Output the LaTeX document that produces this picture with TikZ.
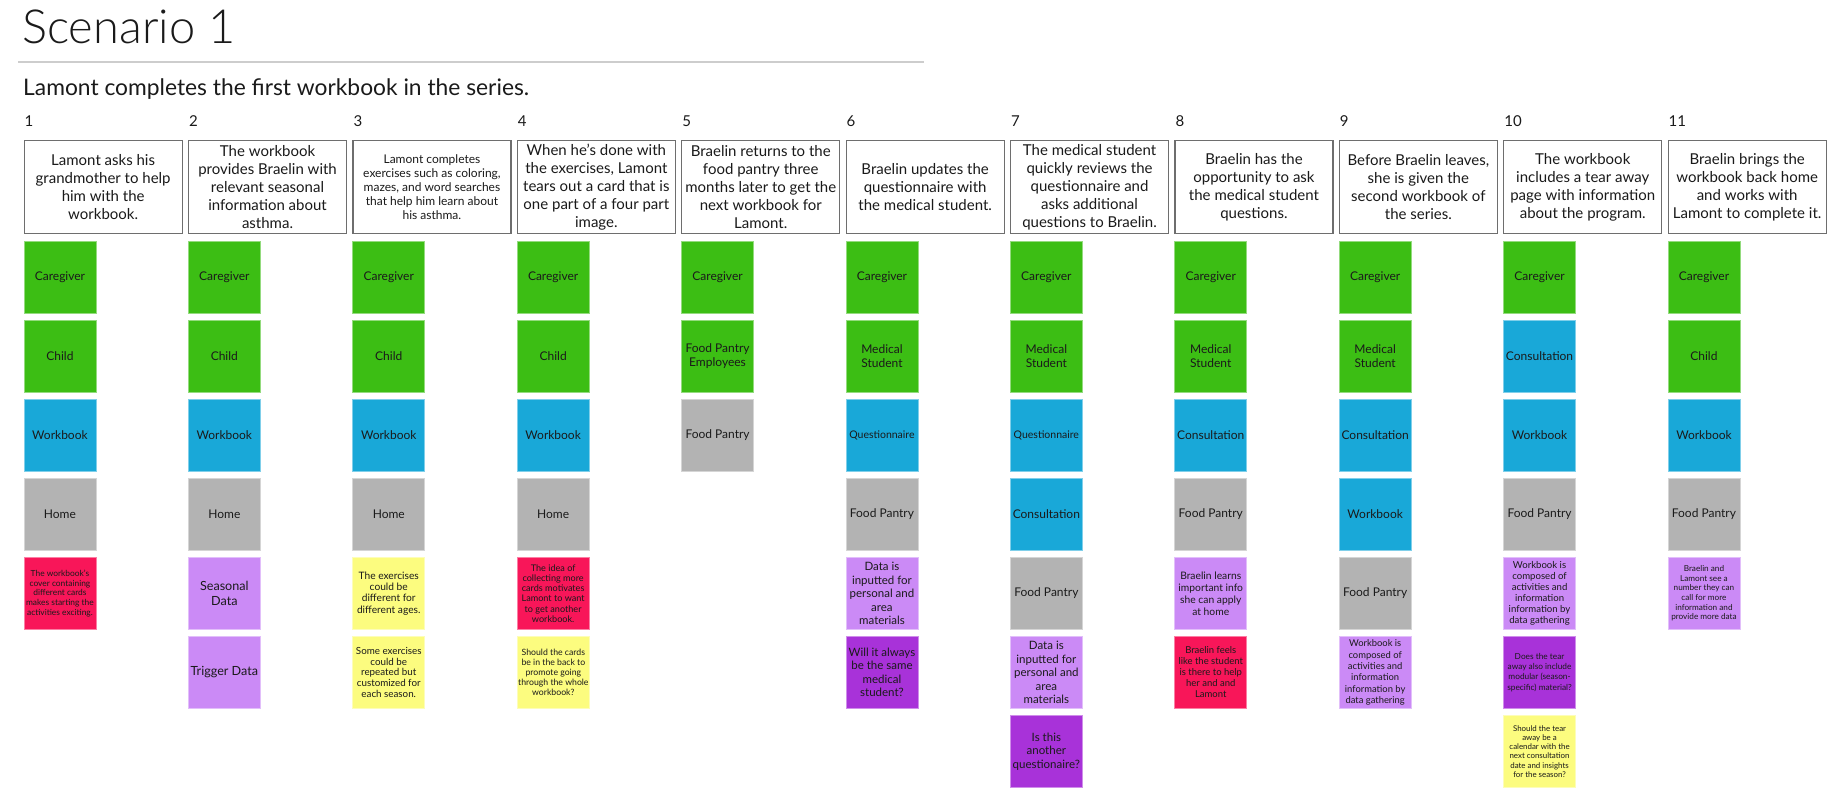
\documentclass[tikz,border=0pt]{standalone}
\usepackage{fontspec}
\setmainfont{Lato}
\newfontfamily\titlefont{Lato Light}
\usepackage{xcolor}
\usetikzlibrary{positioning}

\definecolor{cgreen}{RGB}{60,190,20}
\definecolor{cblue}{RGB}{25,168,216}
\definecolor{cgray}{RGB}{179,179,179}
\definecolor{cred}{RGB}{248,22,89}
\definecolor{clilac}{RGB}{203,138,246}
\definecolor{cpurple}{RGB}{168,50,217}
\definecolor{cyellow}{RGB}{252,252,127}
\definecolor{inkgray}{RGB}{26,26,26}
\definecolor{boxgray}{RGB}{110,110,110}
\definecolor{rulegray}{RGB}{205,205,205}

\tikzset{
  stepbox/.style={draw=boxgray, line width=1.3pt, fill=white, minimum width=158pt,
    minimum height=93pt, inner sep=2pt, anchor=north west, align=center, text=inkgray,
    font=\fontsize{15}{18}\selectfont},
  stepnum/.style={anchor=base west, inner sep=0pt, text=inkgray, font=\fontsize{15}{15}\selectfont},
  sticky/.style={fill=#1, draw=#1!55!white, line width=0.9pt, minimum width=72pt,
    minimum height=72pt, inner sep=1pt, anchor=north west, align=center, text=inkgray,
    font=\fontsize{12}{14}\selectfont},
}

\begin{document}
\begin{tikzpicture}[x=1pt,y=-1pt]
    \useasboundingbox (0,0) rectangle (1846,794);

    \node[anchor=base west, inner sep=0pt, text=inkgray, font=\titlefont\fontsize{47}{47}\selectfont] (title) at (22,44) {Scenario 1};
    \draw[rulegray, line width=1.2pt] (18,62) -- (924,62);
    \node[anchor=base west, inner sep=0pt, text=inkgray, font=\fontsize{22.8}{22.8}\selectfont] (subtitle) at (23,96) {Lamont completes the first workbook in the series.};

    \foreach \i in {1,...,11}
        \node[stepnum] (n\i) at ({24.5+164.4*(\i-1)},127) {\i};

    \node[stepbox] (b1) at (23.5,140) {Lamont asks his\\grandmother to help\\him with the\\workbook.};
    \node[stepbox] (b2) at (187.9,140) {The workbook\\provides Braelin with\\relevant seasonal\\information about\\asthma.};
    \node[stepbox, font=\fontsize{12}{13.8}\selectfont] (b3) at (352.3,140) {Lamont completes\\exercises such as coloring,\\mazes, and word searches\\that help him learn about\\his asthma.};
    \node[stepbox] (b4) at (516.7,140) {When he's done with\\the exercises, Lamont\\tears out a card that is\\one part of a four part\\image.};
    \node[stepbox] (b5) at (681.1,140) {Braelin returns to the\\food pantry three\\months later to get the\\next workbook for\\Lamont.};
    \node[stepbox] (b6) at (845.5,140) {Braelin updates the\\questionnaire with\\the medical student.};
    \node[stepbox] (b7) at (1009.9,140) {The medical student\\quickly reviews the\\questionnaire and\\asks additional\\questions to Braelin.};
    \node[stepbox] (b8) at (1174.3,140) {Braelin has the\\opportunity to ask\\the medical student\\questions.};
    \node[stepbox] (b9) at (1338.7,140) {Before Braelin leaves,\\she is given the\\second workbook of\\the series.};
    \node[stepbox] (b10) at (1503.1,140) {The workbook\\includes a tear away\\page with information\\about the program.};
    \node[stepbox] (b11) at (1667.5,140) {Braelin brings the\\workbook back home\\and works with\\Lamont to complete it.};

    \foreach \i in {1,...,11}
        \node[sticky=cgreen] (s\i-1) at ({23.5+164.4*(\i-1)},241) {Caregiver};
    \foreach \i in {1,2,3,4,11} {
        \node[sticky=cgreen] (s\i-2) at ({23.5+164.4*(\i-1)},320) {Child};
        \node[sticky=cblue] (s\i-3) at ({23.5+164.4*(\i-1)},399) {Workbook};
    }
    \foreach \i in {1,...,4}
        \node[sticky=cgray] (s\i-4) at ({23.5+164.4*(\i-1)},478) {Home};

    \node[sticky=cred, font=\fontsize{8.4}{9.7}\selectfont] (s1-5) at (23.5,557) {The workbook's\\cover containing\\different cards\\makes starting the\\activities exciting.};

    \node[sticky=clilac, font=\fontsize{12.6}{15}\selectfont] (s2-5) at (187.9,557) {Seasonal\\Data};
    \node[sticky=clilac, font=\fontsize{12.6}{15}\selectfont] (s2-6) at (187.9,636) {Trigger Data};

    \node[sticky=cyellow, font=\fontsize{10.2}{11.2}\selectfont] (s3-5) at (352.3,557) {The exercises\\could be\\different for\\different ages.};
    \node[sticky=cyellow, font=\fontsize{9.8}{10.7}\selectfont] (s3-6) at (352.3,636) {Some exercises\\could be\\repeated but\\customized for\\each season.};

    \node[sticky=cred, font=\fontsize{9.1}{10.3}\selectfont] (s4-5) at (516.7,557) {The idea of\\collecting more\\cards motivates\\Lamont to want\\to get another\\workbook.};
    \node[sticky=cyellow, font=\fontsize{8.7}{10}\selectfont] (s4-6) at (516.7,636) {Should the cards\\be in the back to\\promote going\\through the whole\\workbook?};

    \node[sticky=cgreen] (s5-2) at (681.1,320) {Food Pantry\\Employees};
    \node[sticky=cgray] (s5-3) at (681.1,399) {Food Pantry};

    \node[sticky=cgreen] (s6-2) at (845.5,320) {Medical\\Student};
    \node[sticky=cblue, font=\fontsize{10.5}{12}\selectfont] (s6-3) at (845.5,399) {Questionnaire};
    \node[sticky=cgray] (s6-4) at (845.5,478) {Food Pantry};
    \node[sticky=clilac, font=\fontsize{11.5}{13.4}\selectfont] (s6-5) at (845.5,557) {Data is\\inputted for\\personal and\\area\\materials};
    \node[sticky=cpurple, font=\fontsize{11.5}{13.3}\selectfont] (s6-6) at (845.5,636) {Will it always\\be the same\\medical\\student?};

    \node[sticky=cgreen] (s7-2) at (1009.9,320) {Medical\\Student};
    \node[sticky=cblue, font=\fontsize{10.5}{12}\selectfont] (s7-3) at (1009.9,399) {Questionnaire};
    \node[sticky=cblue] (s7-4) at (1009.9,478) {Consultation};
    \node[sticky=cgray] (s7-5) at (1009.9,557) {Food Pantry};
    \node[sticky=clilac, font=\fontsize{11.5}{13.4}\selectfont] (s7-6) at (1009.9,636) {Data is\\inputted for\\personal and\\area\\materials};
    \node[sticky=cpurple, font=\fontsize{11.5}{13.5}\selectfont] (s7-7) at (1009.9,715) {Is this\\another\\questionaire?};

    \node[sticky=cgreen] (s8-2) at (1174.3,320) {Medical\\Student};
    \node[sticky=cblue] (s8-3) at (1174.3,399) {Consultation};
    \node[sticky=cgray] (s8-4) at (1174.3,478) {Food Pantry};
    \node[sticky=clilac, font=\fontsize{10.3}{12}\selectfont] (s8-5) at (1174.3,557) {Braelin learns\\important info\\she can apply\\at home};
    \node[sticky=cred, font=\fontsize{9.5}{11}\selectfont] (s8-6) at (1174.3,636) {Braelin feels\\like the student\\is there to help\\her and and\\Lamont};

    \node[sticky=cgreen] (s9-2) at (1338.7,320) {Medical\\Student};
    \node[sticky=cblue] (s9-3) at (1338.7,399) {Consultation};
    \node[sticky=cblue] (s9-4) at (1338.7,478) {Workbook};
    \node[sticky=cgray] (s9-5) at (1338.7,557) {Food Pantry};
    \node[sticky=clilac, font=\fontsize{9.4}{11.3}\selectfont] (s9-6) at (1338.7,636) {Workbook is\\composed of\\activities and\\information\\information by\\data gathering};

    \node[sticky=cblue] (s10-2) at (1503.1,320) {Consultation};
    \node[sticky=cblue] (s10-3) at (1503.1,399) {Workbook};
    \node[sticky=cgray] (s10-4) at (1503.1,478) {Food Pantry};
    \node[sticky=clilac, font=\fontsize{9.6}{11.1}\selectfont] (s10-5) at (1503.1,557) {Workbook is\\composed of\\activities and\\information\\information by\\data gathering};
    \node[sticky=cpurple, font=\fontsize{8.3}{10.3}\selectfont] (s10-6) at (1503.1,636) {Does the tear\\away also include\\modular (season-\\specific) material?};
    \node[sticky=cyellow, font=\fontsize{7.9}{9.2}\selectfont] (s10-7) at (1503.1,715) {Should the tear\\away be a\\calendar with the\\next consultation\\date and insights\\for the season?};

    \node[sticky=cgray] (s11-4) at (1667.5,478) {Food Pantry};
    \node[sticky=clilac, font=\fontsize{8.2}{9.6}\selectfont] (s11-5) at (1667.5,557) {Braelin and\\Lamont see a\\number they can\\call for more\\information and\\provide more data};
\end{tikzpicture}
\end{document}
